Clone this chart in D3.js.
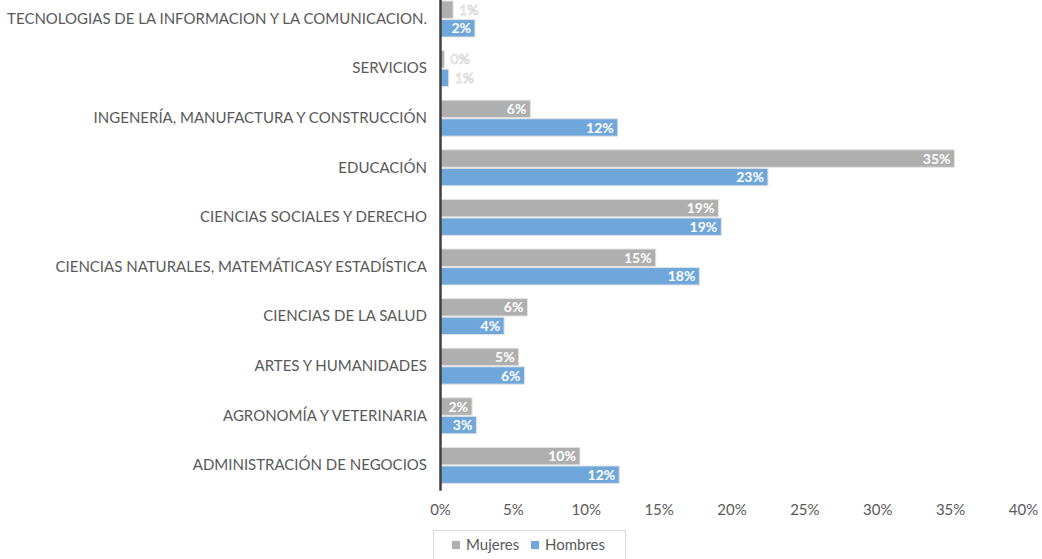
<!DOCTYPE html>
<html>
<head>
<meta charset="utf-8">
<script src="https://cdn.jsdelivr.net/npm/d3@7"></script>
<style>
  body { margin:0; background:#fff; }
  svg { font-family: Lato, "Open Sans", sans-serif; }
</style>
</head>
<body>
<div id="graphHolder"></div>
<script>
// categories top to bottom
var categories = [
  "TECNOLOGIAS DE LA INFORMACION Y LA COMUNICACION.",
  "SERVICIOS",
  "INGENERÍA, MANUFACTURA Y CONSTRUCCIÓN",
  "EDUCACIÓN",
  "CIENCIAS SOCIALES Y DERECHO",
  "CIENCIAS NATURALES, MATEMÁTICASY ESTADÍSTICA",
  "CIENCIAS DE LA SALUD",
  "ARTES Y HUMANIDADES",
  "AGRONOMÍA Y VETERINARIA",
  "ADMINISTRACIÓN DE NEGOCIOS"
];
var series = ["Mujeres", "Hombres"];
var mujeres = [0.009, 0.003, 0.062, 0.353, 0.191, 0.148, 0.060, 0.054, 0.022, 0.096];
var hombres = [0.024, 0.006, 0.122, 0.225, 0.193, 0.178, 0.044, 0.058, 0.025, 0.123];
var tickValues = [0, 0.05, 0.10, 0.15, 0.20, 0.25, 0.30, 0.35, 0.40];
var colors = {Mujeres: "#afafaf", Hombres: "#70a7da"};

var W = 1042, H = 559;
var svg = d3.select("#graphHolder").append("svg")
  .attr("width", W).attr("height", H);

var x = d3.scaleLinear().domain([0, 0.4]).range([440, 1023]);
var y = d3.scaleBand().domain(categories).range([-5.8, 490.2]);
var ySub = d3.scaleBand().domain(series).range([-18, 18]).paddingInner(0.06);

var rows = [];
categories.forEach(function(c, i){
  rows.push({cat: c, s: "Mujeres", v: mujeres[i]});
  rows.push({cat: c, s: "Hombres", v: hombres[i]});
});

// bars
svg.selectAll("rect.bar").data(rows).enter().append("rect")
  .attr("class", "bar")
  .attr("x", x(0))
  .attr("y", function(d){ return y(d.cat) + y.bandwidth()/2 + ySub(d.s); })
  .attr("width", function(d){ return x(d.v) - x(0); })
  .attr("height", ySub.bandwidth())
  .attr("fill", function(d){ return colors[d.s]; })
  .attr("stroke", "#e4e4e4")
  .attr("stroke-width", 1);

// data labels
var fmt = function(v){ return Math.round(v*100) + "%"; };
svg.selectAll("text.lbl").data(rows).enter().append("text")
  .attr("class", "lbl")
  .attr("x", function(d){ return d.v < 0.015 ? x(d.v) + 6 : x(d.v) - 4; })
  .attr("y", function(d){ return y(d.cat) + y.bandwidth()/2 + ySub(d.s) + ySub.bandwidth()/2; })
  .attr("dy", "0.36em")
  .attr("text-anchor", function(d){ return d.v < 0.015 ? "start" : "end"; })
  .attr("fill", "#fff")
  .attr("stroke", function(d){ return d.v < 0.015 ? "#c8c8c8" : "none"; })
  .attr("stroke-width", 0.5)
  .style("font-size", "14px")
  .style("font-weight", function(d){ return d.v < 0.015 ? "normal" : "bold"; })
  .text(function(d){ return fmt(d.v); });

// category axis
var yAxis = d3.axisLeft(y).tickSize(0).tickPadding(13);
var gy = svg.append("g").attr("transform", "translate(" + x(0) + ",0)").call(yAxis);
gy.select(".domain").attr("stroke", "#404040").attr("stroke-width", 2.5);
gy.selectAll("text").attr("fill", "#595959").style("font-size", "15px")
  .style("font-family", "Lato, 'Open Sans', sans-serif");

// value axis (labels only)
var xAxis = d3.axisBottom(x).tickValues(tickValues).tickSize(0).tickPadding(14)
  .tickFormat(function(d){ return Math.round(d*100) + "%"; });
var gx = svg.append("g").attr("transform", "translate(0,490)").call(xAxis);
gx.select(".domain").remove();
gx.selectAll("text").attr("fill", "#595959").style("font-size", "15px")
  .style("font-family", "Lato, 'Open Sans', sans-serif");

// legend
var lg = svg.append("g");
lg.append("rect").attr("x", 433.5).attr("y", 530.5).attr("width", 192).attr("height", 40)
  .attr("fill", "#fff").attr("stroke", "#d9d9d9");
var legX = [452, 531];
series.forEach(function(s, i){
  lg.append("rect").attr("x", legX[i]).attr("y", 541).attr("width", 8).attr("height", 8)
    .attr("fill", colors[s]);
  lg.append("text").attr("x", legX[i] + 14).attr("y", 545).attr("dy", "0.36em")
    .attr("fill", "#595959").style("font-size", "15px").text(s);
});
</script>
</body>
</html>
